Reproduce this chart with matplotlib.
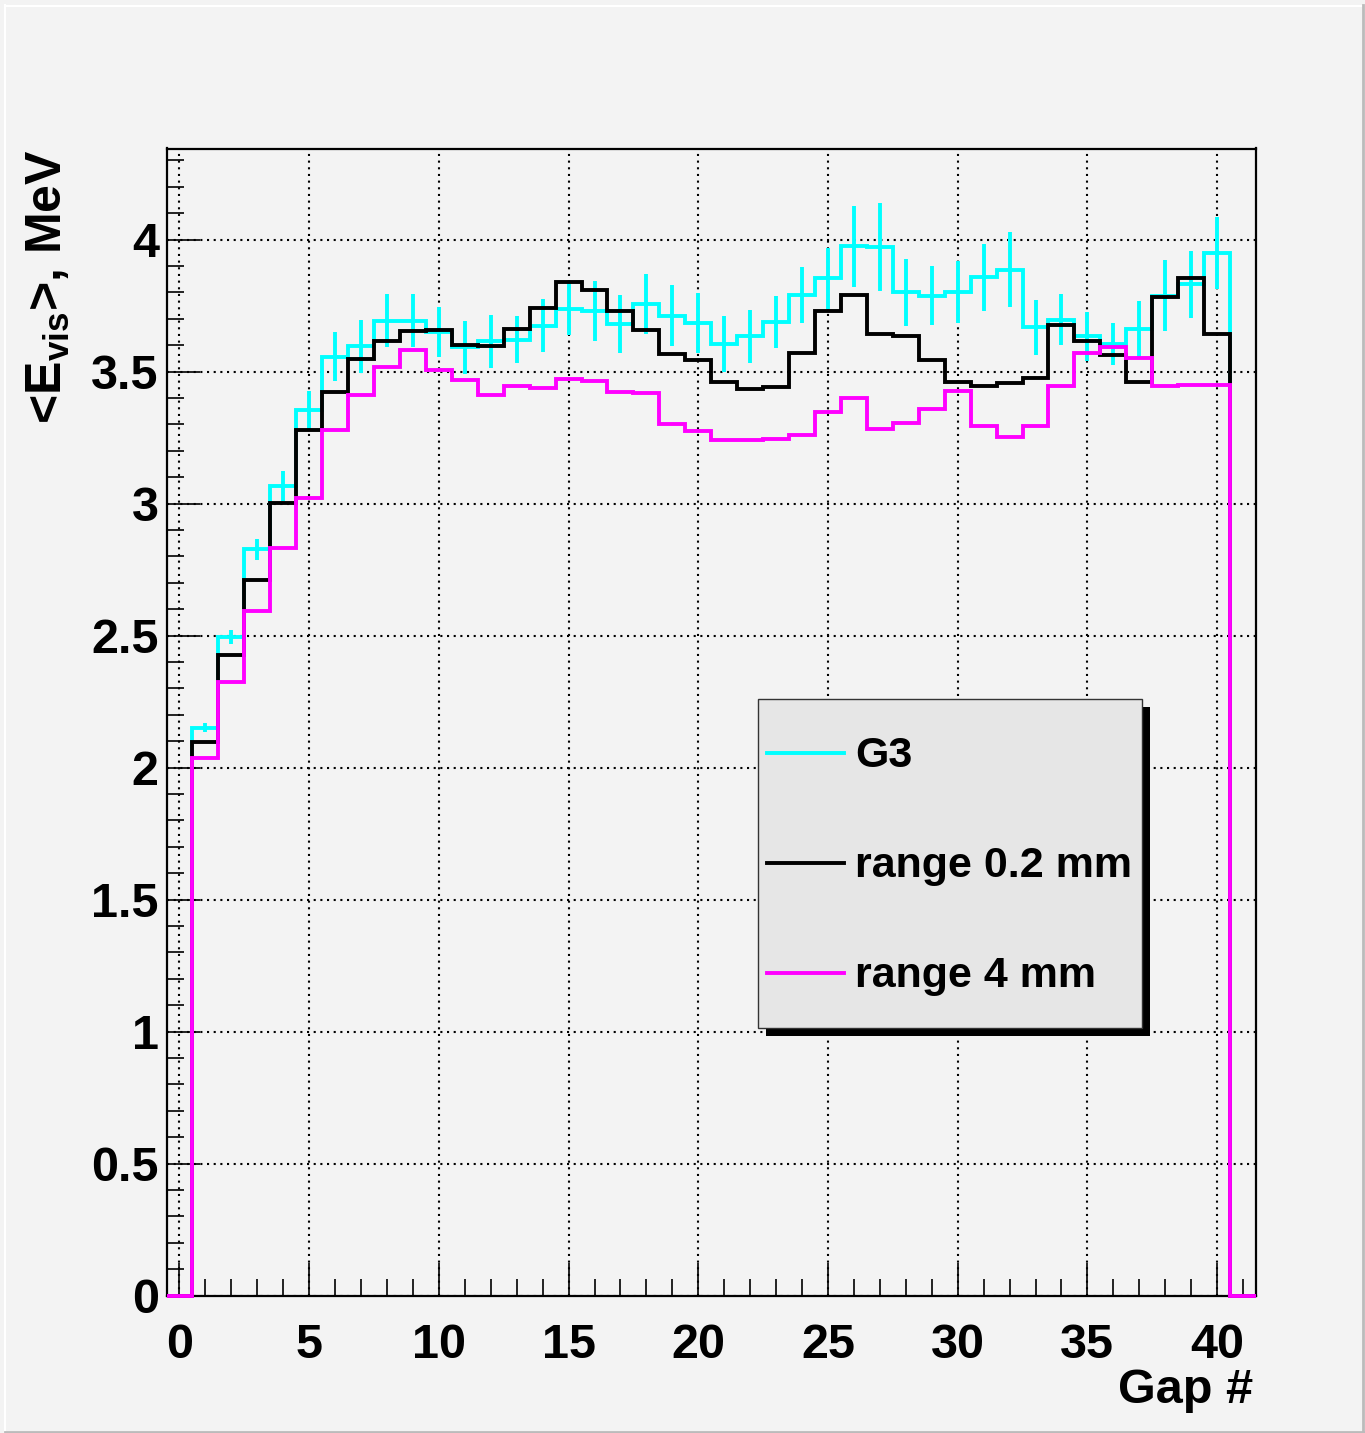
import numpy as np
import matplotlib
matplotlib.use("Agg")
import matplotlib.pyplot as plt
from matplotlib.patches import Rectangle
from matplotlib.lines import Line2D
from matplotlib.ticker import MultipleLocator, FormatStrFormatter

plt.rcParams['font.family'] = ['Liberation Sans', 'DejaVu Sans']
plt.rcParams['font.weight'] = 'bold'
plt.rcParams['mathtext.fontset'] = 'custom'
plt.rcParams['mathtext.rm'] = 'Liberation Sans:bold'
plt.rcParams['mathtext.bf'] = 'Liberation Sans:bold'
plt.rcParams['mathtext.it'] = 'Liberation Sans:bold'

# Gap index (bins 0 and 41 are empty)
gap = np.arange(0, 42)

# Mean visible energy per gap, MeV
g3 = [0.0,
      2.150, 2.494, 2.826, 3.068, 3.355, 3.557, 3.596, 3.693, 3.693, 3.649,
      3.592, 3.615, 3.621, 3.674, 3.737, 3.729, 3.681, 3.756, 3.712, 3.684,
      3.605, 3.634, 3.687, 3.790, 3.853, 3.975, 3.971, 3.800, 3.788, 3.800,
      3.857, 3.886, 3.668, 3.696, 3.634, 3.605, 3.662, 3.788, 3.830, 3.949,
      0.0]
g3_err = [0.0,
          0.017, 0.027, 0.041, 0.057, 0.072, 0.092, 0.100, 0.100, 0.100, 0.095,
          0.100, 0.100, 0.090, 0.100, 0.100, 0.115, 0.110, 0.115, 0.115, 0.115,
          0.105, 0.100, 0.098, 0.105, 0.115, 0.153, 0.167, 0.128, 0.110, 0.117,
          0.126, 0.142, 0.104, 0.097, 0.093, 0.079, 0.106, 0.134, 0.126, 0.136,
          0.0]
range_02mm = [0.0,
              2.098, 2.427, 2.711, 3.003, 3.277, 3.422, 3.548, 3.615, 3.653, 3.659,
              3.602, 3.595, 3.662, 3.741, 3.841, 3.809, 3.729, 3.658, 3.567, 3.542,
              3.460, 3.434, 3.441, 3.571, 3.729, 3.790, 3.643, 3.634, 3.545, 3.460,
              3.445, 3.456, 3.475, 3.677, 3.617, 3.564, 3.460, 3.782, 3.855, 3.643,
              0.0]
range_4mm = [0.0,
             2.037, 2.323, 2.592, 2.832, 3.021, 3.277, 3.413, 3.516, 3.580, 3.506,
             3.468, 3.413, 3.444, 3.437, 3.473, 3.466, 3.422, 3.419, 3.302, 3.273,
             3.239, 3.242, 3.245, 3.261, 3.346, 3.400, 3.283, 3.306, 3.359, 3.428,
             3.295, 3.254, 3.292, 3.445, 3.571, 3.592, 3.552, 3.445, 3.450, 3.450,
             0.0]

labels = ["G3", "range 0.2 mm", "range 4 mm"]
colors = ["#00ffff", "#000000", "#ff00ff"]

W_PX, H_PX = 1365, 1433
BG = "#f3f3f3"


def fx(px):
    return px / W_PX


def fy(py):
    return 1.0 - py / H_PX


fig = plt.figure(figsize=(W_PX / 100, H_PX / 100), dpi=100)
fig.patch.set_facecolor(BG)

left, right, top, bottom = 166.5, 1256.0, 148.5, 1295.5
ax = fig.add_axes([fx(left), fy(bottom), fx(right - left), (bottom - top) / H_PX])
ax.set_facecolor(BG)

edges = np.append(gap - 0.5, gap[-1] + 0.5)
lw = 2.8
ax.stairs(g3, edges, baseline=None, color=colors[0], lw=lw, zorder=3, clip_on=False)
ax.errorbar(gap[1:-1], g3[1:-1], yerr=g3_err[1:-1], fmt='none',
            ecolor=colors[0], elinewidth=lw, capsize=0, zorder=3)
ax.stairs(range_02mm, edges, baseline=None, color=colors[1], lw=lw, zorder=4, clip_on=False)
ax.stairs(range_4mm, edges, baseline=None, color=colors[2], lw=lw, zorder=5, clip_on=False)

ax.set_xlim(-0.5, 41.5)
ax.set_ylim(0, 4.345)

ax.xaxis.set_major_locator(MultipleLocator(5))
ax.xaxis.set_minor_locator(MultipleLocator(1))
ax.yaxis.set_major_locator(MultipleLocator(0.5))
ax.yaxis.set_minor_locator(MultipleLocator(0.1))
ax.yaxis.set_major_formatter(FormatStrFormatter('%g'))

ax.tick_params(which='both', direction='in', top=False, right=False, width=1.2, colors='black')
ax.tick_params(which='major', length=24)
ax.tick_params(which='minor', length=12)
ax.tick_params(axis='both', which='major', labelsize=35)
ax.tick_params(axis='x', which='major', pad=20)
ax.tick_params(axis='y', which='major', pad=5.5)
for lab in ax.get_xticklabels() + ax.get_yticklabels():
    lab.set_fontweight('bold')

ax.grid(True, which='major', color='black', linestyle=(0, (1, 2.2)), linewidth=1.5, zorder=1)
ax.set_axisbelow(True)
for s in ax.spines.values():
    s.set_linewidth(1.6)
    s.set_color('black')

# Axis titles
fig.text(fx(1253), fy(1403), "Gap #", ha='right', va='baseline', fontsize=35, fontweight='bold')
fig.text(fx(25), fy(150), r"<E$_{\mathrm{vis}}$>, MeV", rotation=90, ha='left', va='top',
         fontsize=36, fontweight='bold')

# Legend box with drop shadow
bx0, by0, bx1, by1 = 758, 699, 1142, 1028
sh = 8
fig.add_artist(Rectangle((fx(bx0 + sh), fy(by1 + sh)), fx(bx1 - bx0), (by1 - by0) / H_PX,
                         transform=fig.transFigure, facecolor='black', edgecolor='none', zorder=10))
fig.add_artist(Rectangle((fx(bx0), fy(by1)), fx(bx1 - bx0), (by1 - by0) / H_PX,
                         transform=fig.transFigure, facecolor='#e6e6e6', edgecolor='#333333',
                         linewidth=1.0, zorder=11))
row_y = [753, 863, 973]
for lab, col, ry in zip(labels, colors, row_y):
    fig.add_artist(Line2D([fx(767), fx(844)], [fy(ry), fy(ry)], transform=fig.transFigure,
                          color=col, lw=lw, zorder=12))
    fig.text(fx(855), fy(ry + 14), lab, ha='left', va='baseline', fontsize=31,
             fontweight='bold', zorder=12)

# Canvas bevel
fig.add_artist(Line2D([fx(4.5), fx(4.5)], [fy(5), fy(1431)], transform=fig.transFigure,
                      color='white', lw=1.5))
fig.add_artist(Line2D([fx(4.5), fx(1362)], [fy(5.5), fy(5.5)], transform=fig.transFigure,
                      color='white', lw=1.5))
fig.add_artist(Line2D([fx(1363), fx(1363)], [fy(5), fy(1432)], transform=fig.transFigure,
                      color='#bbbbbb', lw=2))
fig.add_artist(Line2D([fx(4.5), fx(1363)], [fy(1431.5), fy(1431.5)], transform=fig.transFigure,
                      color='#bbbbbb', lw=2))

fig.savefig("out.png", dpi=100, facecolor=BG)
